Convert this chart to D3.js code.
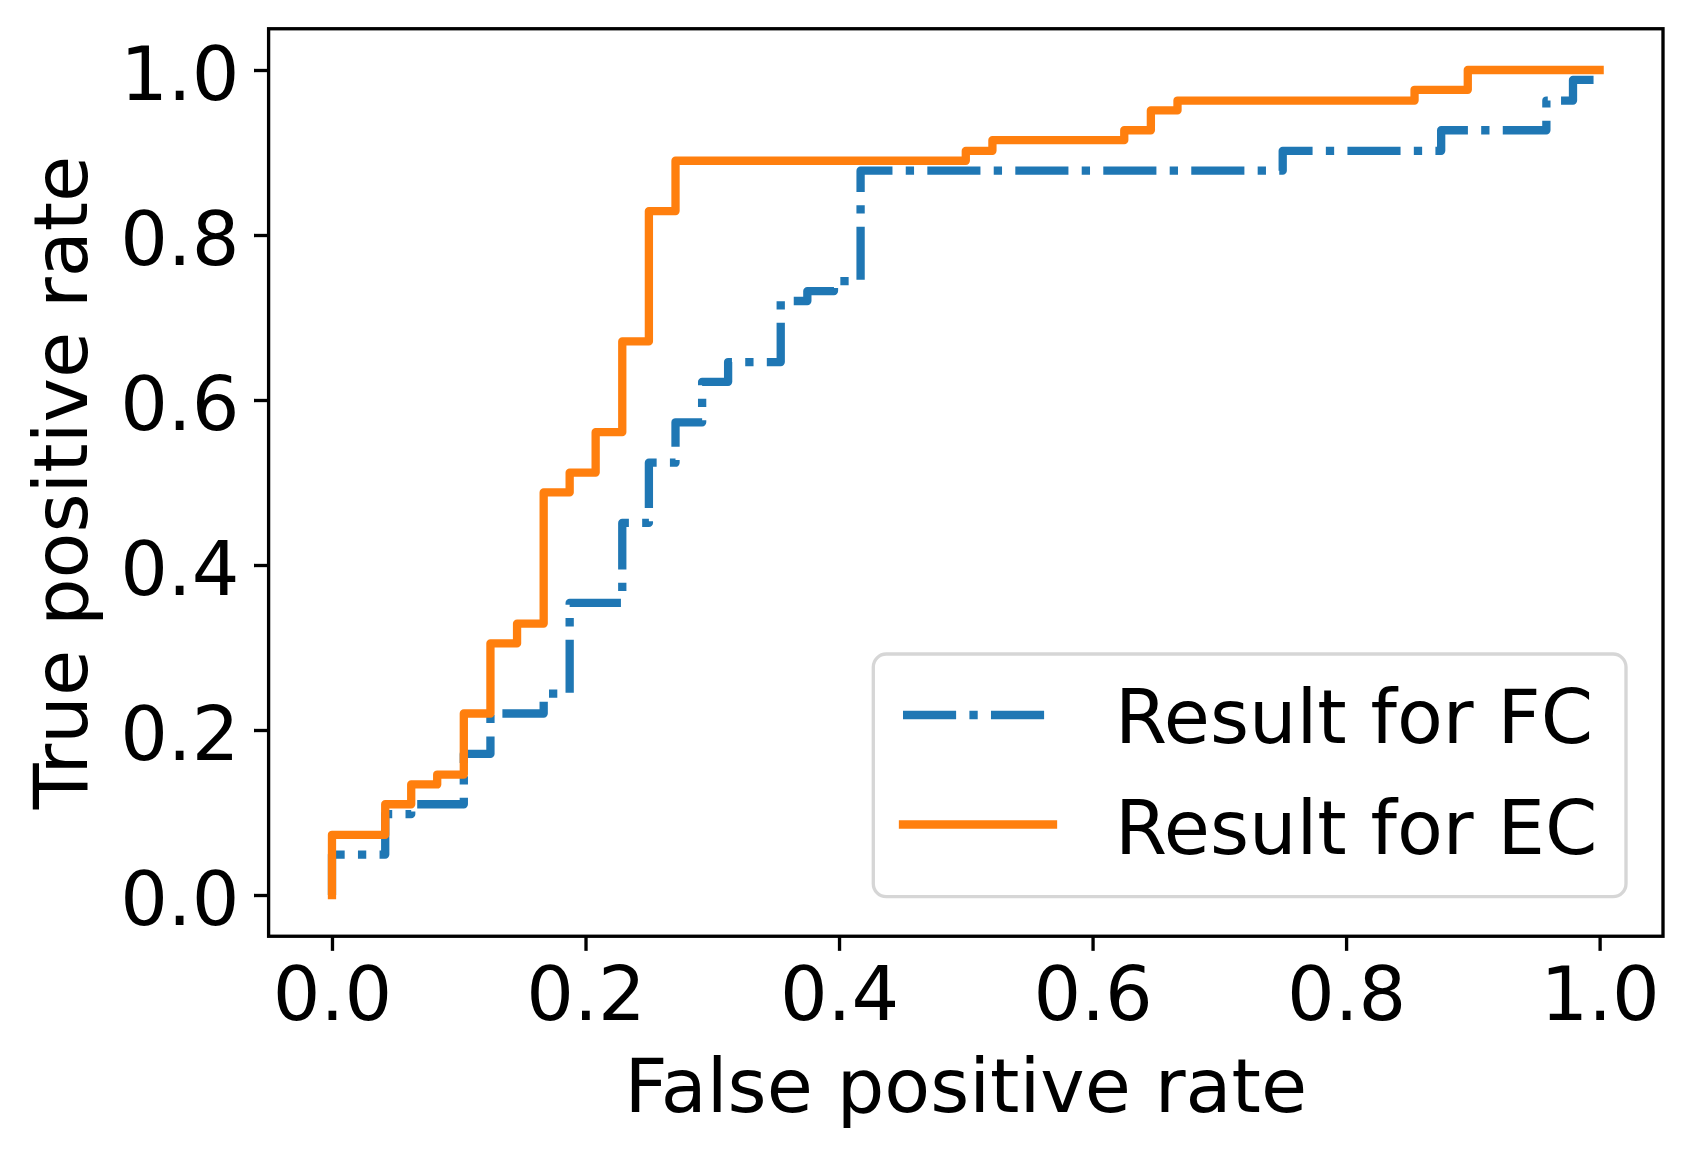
<!DOCTYPE html>
<html>
<head>
<meta charset="utf-8">
<script src="https://cdn.jsdelivr.net/npm/d3@7"></script>
<style>
  html, body { margin: 0; padding: 0; background: #ffffff; }
  svg { display: block; }
  text { font-family: "DejaVu Sans", sans-serif; fill: #000; }
</style>
</head>
<body>
<script>
// ---- Data ----
// Result for FC (dash-dot, blue): step points (fpr where the curve rises, tpr after rising)
const fcFpr = [0.000, 0.042, 0.0625, 0.104, 0.125, 0.167, 0.1875, 0.229, 0.250, 0.271, 0.292, 0.3125, 0.354, 0.375, 0.396, 0.417, 0.750, 0.875, 0.958, 0.979, 1.000];
const fcTpr = [0.049, 0.098, 0.110, 0.171, 0.220, 0.244, 0.354, 0.451, 0.524, 0.573, 0.622, 0.646, 0.720, 0.732, 0.744, 0.878, 0.902, 0.927, 0.963, 0.988, 0.988];
// Result for EC (solid, orange)
const ecFpr = [0.000, 0.042, 0.0625, 0.083, 0.104, 0.125, 0.146, 0.167, 0.1875, 0.208, 0.229, 0.250, 0.271, 0.500, 0.521, 0.625, 0.646, 0.667, 0.854, 0.896, 1.000];
const ecTpr = [0.073, 0.110, 0.134, 0.146, 0.220, 0.305, 0.329, 0.488, 0.512, 0.561, 0.671, 0.829, 0.890, 0.902, 0.915, 0.927, 0.951, 0.963, 0.976, 1.000, 1.000];

const seriesNames = ["Result for FC", "Result for EC"];
const xTicks = [0, 0.2, 0.4, 0.6, 0.8, 1.0];
const yTicks = [0, 0.2, 0.4, 0.6, 0.8, 1.0];
const xTitle = "False positive rate";
const yTitle = "True positive rate";

(function () {
// ---- Layout ----
const W = 1693, H = 1157;
const pLeft = 268.6, pRight = 1663, pTop = 28.75, pBottom = 936.25;
const FS = 75;          // 18pt @ 300dpi
const LW = 8.3;         // 2pt line width
const SPINE = 3.33;
const TICKLEN = 14.6;

const svg = d3.select("body").append("svg").attr("width", W).attr("height", H);

const x = d3.scaleLinear().domain([-0.05, 1.05]).range([pLeft, pRight]);
const y = d3.scaleLinear().domain([-0.05, 1.05]).range([pBottom, pTop]);

function stepPoints(fpr, tpr) {
  const pts = [[0, 0]];
  for (let i = 0; i < fpr.length; i++) {
    pts.push([fpr[i], tpr[i]]);
    if (i < fpr.length - 1) pts.push([fpr[i + 1], tpr[i]]);
  }
  return pts;
}

const line = d3.line().x(d => x(d[0])).y(d => y(d[1]));

const blue = "#1f77b4", orange = "#ff7f0e";
const dash = [6.4, 1.6, 1, 1.6].map(v => v * LW).join(",");

// curves
svg.append("path")
  .attr("d", line(stepPoints(fcFpr, fcTpr)))
  .attr("fill", "none").attr("stroke", blue).attr("stroke-width", LW)
  .attr("stroke-dasharray", dash).attr("stroke-linecap", "butt").attr("stroke-linejoin", "round");

svg.append("path")
  .attr("d", line(stepPoints(ecFpr, ecTpr)))
  .attr("fill", "none").attr("stroke", orange).attr("stroke-width", LW)
  .attr("stroke-linecap", "square").attr("stroke-linejoin", "round");

// axes
const xAxis = d3.axisBottom(x).tickValues(xTicks).tickFormat(d3.format(".1f")).tickSize(TICKLEN).tickPadding(14.6);
const yAxis = d3.axisLeft(y).tickValues(yTicks).tickFormat(d3.format(".1f")).tickSize(TICKLEN).tickPadding(14.6);

const gx = svg.append("g").attr("transform", `translate(0,${pBottom})`).call(xAxis);
const gy = svg.append("g").attr("transform", `translate(${pLeft},0)`).call(yAxis);

[gx, gy].forEach(g => {
  g.select(".domain").remove();
  g.selectAll(".tick line").attr("stroke", "#000").attr("stroke-width", SPINE);
  g.selectAll(".tick text").attr("font-size", FS).attr("font-family", "DejaVu Sans").attr("fill", "#000");
});
gx.selectAll(".tick text").attr("dy", null).attr("y", 1020 - pBottom);
gy.selectAll(".tick text").attr("dy", null).attr("y", 29).attr("x", -(TICKLEN + 14.6));

// spines (frame)
svg.append("rect")
  .attr("x", pLeft).attr("y", pTop).attr("width", pRight - pLeft).attr("height", pBottom - pTop)
  .attr("fill", "none").attr("stroke", "#000").attr("stroke-width", SPINE).attr("stroke-linejoin", "miter");

// axis titles
svg.append("text").attr("x", (pLeft + pRight) / 2).attr("y", 1112)
  .attr("text-anchor", "middle").attr("font-size", FS).text(xTitle);
svg.append("text").attr("transform", `translate(86.5,${(pTop + pBottom) / 2}) rotate(-90)`)
  .attr("text-anchor", "middle").attr("font-size", FS).text(yTitle);

// legend
const lg = svg.append("g");
lg.append("rect")
  .attr("x", 873.3).attr("y", 654).attr("width", 1626 - 873.3).attr("height", 896.7 - 654)
  .attr("rx", 13).attr("ry", 13)
  .attr("fill", "#ffffff").attr("fill-opacity", 0.8)
  .attr("stroke", "#d6d6d6").attr("stroke-width", SPINE);

const legendItems = [
  { name: seriesNames[0], color: blue, dashed: true, ly: 715, ty: 743.3 },
  { name: seriesNames[1], color: orange, dashed: false, ly: 824.5, ty: 853.5 }
];
legendItems.forEach(it => {
  const l = lg.append("line")
    .attr("x1", 903).attr("x2", 1053).attr("y1", it.ly).attr("y2", it.ly)
    .attr("stroke", it.color).attr("stroke-width", LW);
  if (it.dashed) l.attr("stroke-dasharray", dash).attr("stroke-linecap", "butt");
  else l.attr("stroke-linecap", "square");
  lg.append("text").attr("x", 1115).attr("y", it.ty).attr("font-size", FS).text(it.name);
});
})();
</script>
</body>
</html>
